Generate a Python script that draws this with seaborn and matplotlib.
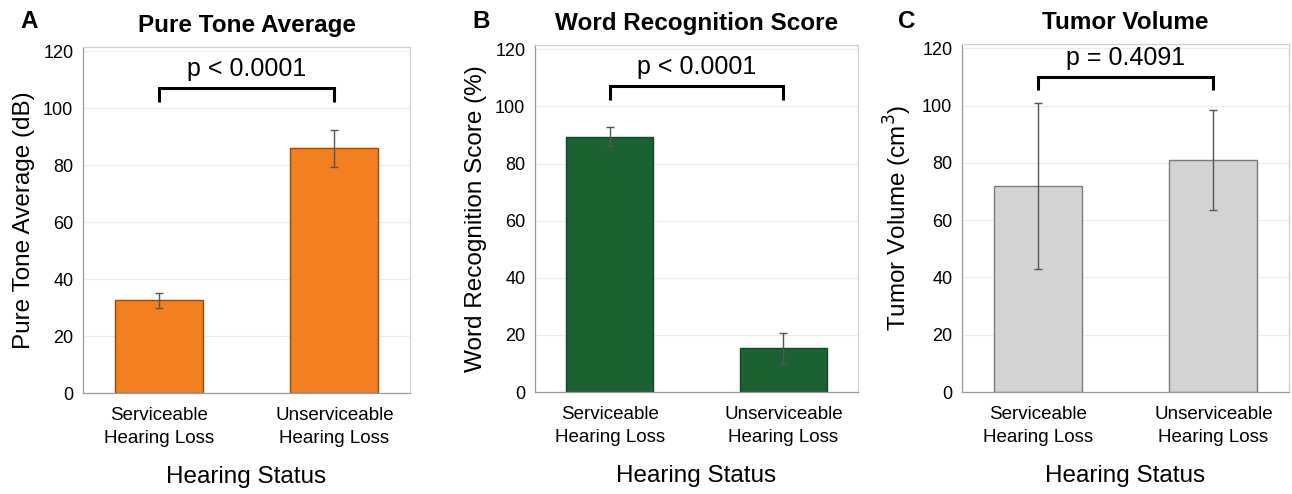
import numpy as np
import pandas as pd
import seaborn as sns
import matplotlib.pyplot as plt

groups = ["Serviceable\nHearing Loss", "Unserviceable\nHearing Loss"]

pta_mean = [32.5, 85.9]
pta_err = [2.7, 6.6]

wrs_mean = [89.4, 15.3]
wrs_err = [3.3, 5.5]

vol_mean = [72.0, 81.0]
vol_err = [29.0, 17.5]

panels = [
    ("A", "Pure Tone Average", "Pure Tone Average (dB)", pta_mean, pta_err, "#F47F20", "#8a4a1a", "p < 0.0001"),
    ("B", "Word Recognition Score", "Word Recognition Score (%)", wrs_mean, wrs_err, "#1B6132", "#15452a", "p < 0.0001"),
    ("C", "Tumor Volume", "Tumor Volume (cm$^3$)", vol_mean, vol_err, "#D3D3D3", "#7a7a7a", "p = 0.4091"),
]

sns.set_style("white")
plt.rcParams['font.family'] = ['Liberation Sans', 'DejaVu Sans']
plt.rcParams['text.color'] = 'black'
plt.rcParams['axes.labelcolor'] = 'black'
plt.rcParams['xtick.labelcolor'] = 'black'
plt.rcParams['ytick.labelcolor'] = 'black'

fig = plt.figure(figsize=(12.92, 4.94), dpi=100)
W, H = 1292, 494
# axes boxes in pixels: left, top, right, bottom
boxes = [(83, 47, 410, 393), (535, 45, 858, 392), (962, 44, 1289, 392)]
letter_x = [20, 472, 898]

for (letter, title, ylab, mean, err, color, edge, ptxt), (l, t, r, b), lx in zip(panels, boxes, letter_x):
    ax = fig.add_axes([l / W, 1 - b / H, (r - l) / W, (b - t) / H])
    df = pd.DataFrame({"group": groups, "value": mean})
    sns.barplot(data=df, x="group", y="value", color=color, width=0.5,
                edgecolor=edge, linewidth=1.0, saturation=1, ax=ax)
    ax.errorbar(x=[0, 1], y=mean, yerr=err, fmt="none", ecolor="#555555",
                elinewidth=1.0, capsize=3, capthick=1.0, zorder=5)
    ax.set_xlim(-0.43, 1.43)
    ax.set_ylim(0, 121.5)
    ax.set_yticks(np.arange(0, 121, 20))
    ax.yaxis.grid(True, color="#ececec", linewidth=0.8)
    ax.set_axisbelow(True)
    for s in ["top", "right"]:
        ax.spines[s].set_color("#d0d0d0")
    for s in ["left", "bottom"]:
        ax.spines[s].set_color("#9a9a9a")
    for s in ax.spines.values():
        s.set_linewidth(0.9)
    ax.tick_params(axis="y", labelsize=13, length=3, color="#9a9a9a", pad=4)
    ax.tick_params(axis="x", labelsize=13.5, length=4, color="#9a9a9a", pad=6)
    for lab in ax.get_xticklabels():
        lab.set_linespacing(1.45)
    ax.set_ylabel(ylab, fontsize=17.5, labelpad=6)
    ax.set_xlabel("Hearing Status", fontsize=17.5, labelpad=14)
    ax.set_title(title, fontsize=17.5, fontweight="bold", pad=11)
    fig.text(lx / W, 1 - 21 / H, letter, fontsize=17.5, fontweight="bold", va="center", ha="left")

    # significance bracket
    yb = 107 if letter != "C" else 110
    ax.plot([0, 0, 1, 1], [yb - 4.7, yb, yb, yb - 4.7], color="black", linewidth=2.2,
            solid_capstyle="butt", solid_joinstyle="miter")
    ax.text(0.5, yb + 2.5, ptxt, ha="center", va="bottom", fontsize=18)

fig.savefig("out.png", dpi=100)
